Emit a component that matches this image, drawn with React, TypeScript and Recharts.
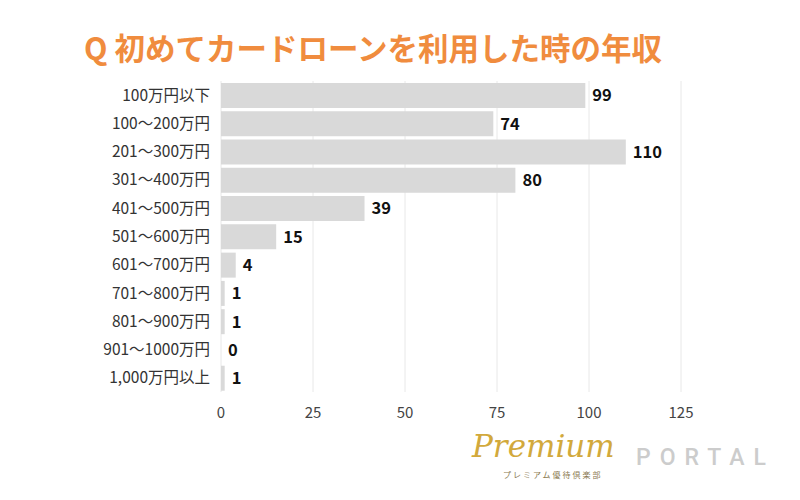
import React from 'react';
import { BarChart, Bar, XAxis, YAxis, CartesianGrid, LabelList } from 'recharts';

// income brackets (yen) and number of respondents
const categories = [
  '100万円以下',
  '100～200万円',
  '201～300万円',
  '301～400万円',
  '401～500万円',
  '501～600万円',
  '601～700万円',
  '701～800万円',
  '801～900万円',
  '901～1000万円',
  '1,000万円以上',
];
const counts = [99, 74, 110, 80, 39, 15, 4, 1, 1, 0, 1];
const xTicks = [0, 25, 50, 75, 100, 125];

const data = categories.map((name, i) => ({ name, count: counts[i] }));

const FONT = '"Noto Sans CJK JP", "Noto Sans", sans-serif';

const App: React.FC = () => {
  return (
    <div style={{ position: 'absolute', left: 0, top: 0, width: 800, height: 500, background: '#fff', fontFamily: FONT }}>
      <div
        style={{
          position: 'absolute',
          left: 84,
          top: 25,
          fontSize: 30.5,
          fontWeight: 700,
          color: '#f08c3e',
          whiteSpace: 'nowrap',
        }}
      >
        Q 初めてカードローンを利用した時の年収
      </div>

      <div style={{ position: 'absolute', left: 0, top: 0 }}>
        <BarChart
          width={800}
          height={500}
          data={data}
          layout="vertical"
          margin={{ top: 81, right: 119, bottom: 78, left: 0 }}
          barSize={25}
        >
          <CartesianGrid horizontal={false} stroke="#e8e8e8" />
          <XAxis
            type="number"
            domain={[0, 125]}
            ticks={xTicks}
            axisLine={false}
            tickLine={false}
            tickSize={0}
            tickMargin={15}
            height={30}
            tick={{ fontSize: 15, fill: '#444', fontFamily: FONT }}
          />
          <YAxis
            type="category"
            dataKey="name"
            width={221}
            axisLine={false}
            tickLine={false}
            tickSize={0}
            tickMargin={11}
            interval={0}
            tick={{ fontSize: 15.5, fill: '#333', fontFamily: FONT }}
          />
          <Bar
            dataKey="count"
            fill="#d9d9d9"
            isAnimationActive={false}
            minPointSize={(v: number) => (v === 0 ? 0.01 : 0)}
          >
            <LabelList
              dataKey="count"
              position="right"
              offset={7}
              style={{ fontSize: 16.5, fontWeight: 700, fill: '#111', fontFamily: FONT }}
            />
          </Bar>
        </BarChart>
      </div>

      {/* logo */}
      <div
        style={{
          position: 'absolute',
          left: 472,
          top: 428,
          fontFamily: '"DejaVu Serif", serif',
          fontStyle: 'italic',
          fontSize: 31,
          color: '#d2a93c',
          whiteSpace: 'nowrap',
        }}
      >
        Premium
      </div>
      <div
        style={{
          position: 'absolute',
          left: 503,
          top: 469,
          fontSize: 8,
          color: '#8a7a50',
          letterSpacing: 2,
          whiteSpace: 'nowrap',
        }}
      >
        プレミアム優待倶楽部
      </div>
      <div
        style={{
          position: 'absolute',
          left: 636,
          top: 444,
          fontFamily: 'Roboto, sans-serif',
          fontSize: 23,
          fontWeight: 500,
          color: '#cccccc',
          letterSpacing: 9,
          whiteSpace: 'nowrap',
        }}
      >
        PORTAL
      </div>
    </div>
  );
};

export default App;
